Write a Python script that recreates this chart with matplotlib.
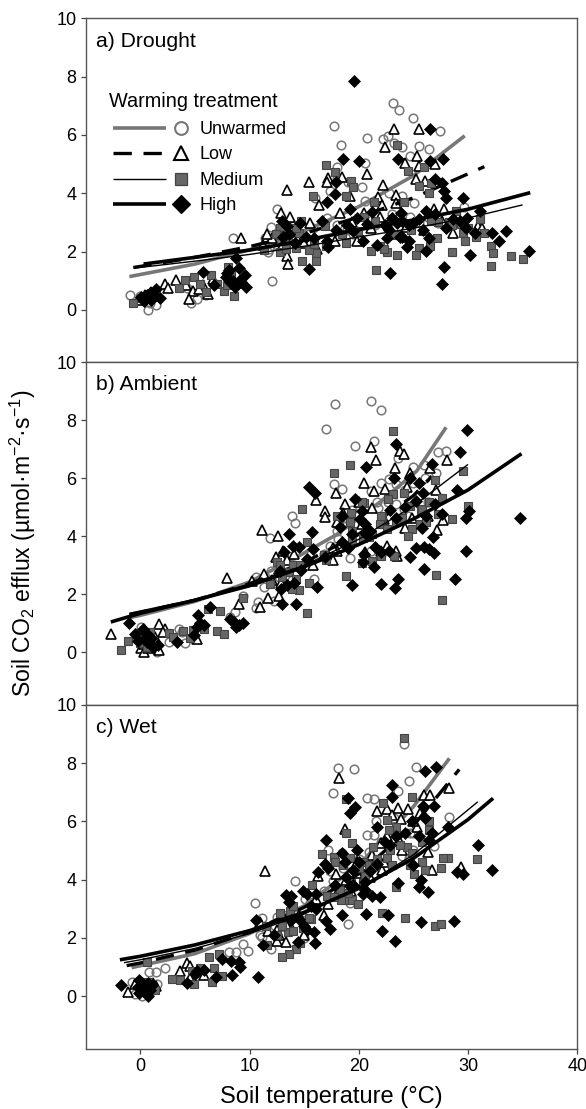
import numpy as np
import matplotlib
matplotlib.use('Agg')
import matplotlib.pyplot as plt

plt.rcParams['font.family'] = ['Liberation Sans', 'DejaVu Sans']
plt.rcParams['mathtext.fontset'] = 'custom'
plt.rcParams['mathtext.rm'] = 'Liberation Sans'
plt.rcParams['mathtext.default'] = 'regular'

# Data: (soil temperature, efflux)
#a) Drought
a_unwarmed = [(23.1,7.09),(23.7,6.86),(25,6.57),(27.4,6.14),(17.7,6.31),(20.8,5.91),(18.4,5.67),(22.2,5.85),(22.7,5.97),
              (23.2,5.71),(24,5.58),(25.5,5.62),(26.4,5.53),(24.7,5.26),(20.6,5.05),(18,4.91),(20.3,4.23),(17.4,4.06),
              (22.8,4.02),(20.6,3.75),(25.1,3.66),(29.6,3.54),(12.5,3.46),(12,2.83),(11.4,2.47),(8.5,2.47),(12.1,1),
              (-0.95,0.51),(-0.03,0.46),(0.73,0),(1.44,0.15),(4.3,0.74),(4.65,0.25),(5.2,0.38),(17.1,3.14),(24.7,3.2),
              (11.7,2),(27.3,2.97),(16,3.83),(14,2.86),(18.9,2.74),(26.3,3.2)]
a_unwarmed += [(14.5,2.3),(15.8,2.8),(12.6,2.2),(13,2.5),(18,2.9),(19.5,2.6),(21,3.1),(23,3.3),(25.5,3),(0.3,0.35),(0.9,0.25),
               (6,0.5),(8.3,0.9),(11.8,2.1),(24,3.9),(19,4.4),(18,4.5),(21.5,2.9)]
a_low = [(23.2,6.21),(25.5,6.21),(22.4,5.57),(25.3,5.28),(24.2,5.05),(25.5,4.95),(27,5),(20.8,4.66),(15.4,4.38),(13.4,4.11),
         (17.2,4.51),(17.1,4.37),(18.5,4.57),(25.2,4.48),(26.1,4.43),(22.2,4.29),(19.2,3.91),(23.4,3.93),(21.8,3.86),
         (16.4,3.58),(22.1,3.6),(23.4,3.68),(27.8,3.46),(26.9,3.46),(12.9,3.31),(13.7,3.2),(15.5,2.99),(18.3,3.31),
         (20.5,3.31),(21.9,3.2),(30.9,2.86),(31.3,2.8),(28.6,2.65),(9.2,2.47),(12.1,2.46),(11.2,2.23),(16.2,2.08),
         (19.8,2.37),(13.4,1.83),(13.5,1.58),(2.26,0.89),(3.24,1.03),(2.57,0.74),(4.86,0.65),(4.46,0.38),(5.7,0.86),
         (6.7,1.05),(6.2,0.55),(-0.2,0.32),(0.7,0.4)]
a_low += [(14.4,2.4),(11.6,2.6),(13.3,2.55),(19.4,3),(21.1,2.8),(22.7,2.95),(24.3,2.85),(26,2.75),(27.6,3.05),(28.7,3.1),
          (0.4,0.5),(1,0.6),(5.4,0.7),(4.2,0.85),(13,2.2),(15,2.3),(17.8,2.35)]
a_medium = [(23.5,5.66),(17,4.97),(17.8,4.72),(24.5,4.77),(26,4.91),(19.3,4.43),(19.5,4.23),(25.5,4.26),(26.6,4.34),(26.4,4),
            (15.8,3.92),(18.8,3.91),(21.4,3.71),(24.1,3.71),(28.9,3.39),(31.1,3.12),(28.3,3),(28.9,3),(31.5,2.65),
            (29.5,2.65),(30.7,2.51),(29.7,2.37),(27.2,2.46),(32.1,2.2),(32.3,1.94),(33.9,1.85),(35,1.76),(32.1,1.51),
            (28.5,2),(25.5,2.11),(25.2,1.89),(23.5,1.89),(22.6,2),(21.1,2.02),(21.6,1.36),(18.8,2.29),(16.1,1.94),
            (16.1,1.69),(14.8,1.66),(15.4,2.06),(14.3,2.11),(12.8,2),(11.3,2.06),(14.5,2.65),(12.8,2.8),(16.9,2.86),
            (21.5,3.06),(14.7,3.06),(8.07,1.46),(6.5,1.18),(4.9,1.14),(4.1,1.03),(3.5,0.74),(6,0.61),(7.7,0.66),
            (8.6,0.48),(-0.7,0.23),(7.9,0.86)]
a_medium += [(14.3,2.8),(12.9,2.55),(13.3,2.1),(15.9,2.25),(17,2.2),(18.5,2.6),(19.9,2.7),(21.9,2.2),(22.3,2.1),(23.3,2.55),
             (24.8,2.75),(26.5,2.2),(27.3,3),(28.5,2.9),(29.4,2.95),(30,2.8),(13.5,2.4),(0.2,0.4),(1,0.5),(5.5,0.9),(7,0.9),
             (8.3,1.25),(12.4,2.6),(20.5,3.2),(23,3.1),(26.6,3.05)]
a_high = [(19.6,7.86),(26.5,6.21),(18.6,5.18),(20,5.09),(23.6,5.18),(26.5,5.12),(27.7,5.18),(29.5,3.85),(27,4.49),(27.6,4.34),
          (27.8,4.06),(28,3.85),(17.9,4.38),(17.8,3.97),(17.1,3.71),(19.2,3.46),(21.2,3.35),(23.9,3.31),(26.2,3.39),
          (29.9,3.14),(31.1,3.39),(29.8,2.82),(28,2.8),(30.6,2.63),(32.2,2.63),(33.5,2.69),(32.8,2.37),(35.6,2.02),
          (30.2,1.89),(27.8,1.46),(27.6,0.89),(26.4,2.48),(26.2,2.02),(24.6,2.37),(24.4,2.15),(24,2.51),(22.9,1.26),
          (21.7,2.23),(20.4,2.37),(22.8,2.74),(16.6,3.05),(14.6,2.97),(13.4,2.86),(13.1,2.51),(15.9,2.46),(17.1,2.37),
          (17.2,2.14),(17.9,2.74),(15.4,1.39),(8.8,1.77),(8.1,1.37),(9.05,1.43),(9.6,1.2),(7.8,1.14),(9.66,0.78),
          (8.7,0.78),(6.76,0.86),(5.7,1.31),(1.44,0.71),(0.9,0.57),(1.8,0.4),(0.43,0.34),(19.8,3.14),(23.5,2.97),
          (25,2.97),(24,3.05)]
a_high += [(22.4,2.91),(23.8,2.51),(22.6,2.46),(18.9,2.9),(20.8,2.95),(25.5,3.1),(27,3.3),(24.6,2.9),(13.6,2.6),(14.2,2.3),
           (15.2,2.5),(13,3.05),(19.5,2.7),(25.9,2.75),(23,3.15),(28.6,3.1),(29.3,3.05),(0.1,0.45),(0.6,0.5),(1.1,0.55),
           (0.3,0.3),(1,0.35),(8.5,1),(9,1),(8.2,0.95),(7.9,1.25),(9.2,0.95)]
a_fit_unwarmed = [(-1,1.14),(5,1.57),(10,2.06),(15,2.7),(20,3.54),(25,4.6),(29.7,5.97)]
a_fit_low = [(-0.64,1.45),(5,1.8),(10,2.17),(15,2.62),(20,3.18),(25,3.84),(31.5,4.91)]
a_fit_medium = [(-0.6,1.43),(5,1.67),(10,1.9),(15,2.18),(20,2.5),(25,2.8),(30,3.15),(35,3.6)]
a_fit_high = [(0.3,1.57),(5,1.8),(10,2.05),(15,2.38),(20,2.75),(25,3.08),(30,3.45),(35.7,4.02)]

#b) Ambient
b_unwarmed = [(17.8,8.56),(21.1,8.67),(22,8.34),(17,7.71),(21.4,7.3),(19.7,7.13),(28,6.96),(27.3,6.9),(23.6,6.69),(25,6.4),
              (26,6.45),(17.7,5.79),(18.5,5.65),(22,5.85),(22.8,5.99),(23.4,5.79),(13.9,4.69),(14.2,4.46),(11.9,3.93),
              (21.7,5.17),(21.1,5.57),(21.8,4.99),(18,4.19),(17.4,3.66),(19.2,3.26),(15.9,2.54),(10.6,2.59),(12,2.8),
              (11.3,2.25),(10.8,1.74),(10.6,1.54),(12.2,1.79),(9.4,1.94),(8.2,1.22),(2.6,0.37),(4.1,0.31),(3.8,0.71),
              (1.5,0),(0.1,0.88),(24.1,4.94),(26.3,5.17),(25,5.85)]
b_unwarmed += [(18.2,4.5),(19.4,4.9),(22.7,5.2),(23.4,5.1),(24.2,5.6),(26.1,6),(27.1,6.2),(16.8,3.4),(14.1,3),(12.7,2.6),(13.2,2.3),
               (13.9,2.5),(19,4.6),(20.3,4.5),(24.5,4.7),(1,0.4),(0.5,0.6),(3.5,0.8),(8.7,1.4),(21.1,3.5),(18.1,3.9)]
b_low = [(21.1,7.09),(23.8,6.94),(24.1,6.85),(21.6,6.63),(28.1,6.63),(26.5,6.37),(23.3,6.35),(24.7,6.19),(20.5,5.85),(21.4,5.57),
         (22.4,5.62),(17.9,5.49),(27.1,5.6),(16.1,5.26),(18.7,5.11),(16.9,4.86),(16.9,4.67),(18.6,4.82),(21.2,4.99),
         (18,4.51),(20.3,4.42),(24.9,4.65),(27.7,4.56),(27.2,4.22),(11.1,4.23),(12.6,4),(12.4,3.28),(13.4,3.19),(18,3.51),
         (17.6,3.19),(20.6,3.45),(22.6,3.68),(23.5,3.34),(23.4,3.51),(7.9,2.56),(11.3,2.69),(10.2,2.45),(9.05,1.66),
         (11.7,1.89),(12.7,1.94),(11,1.55),(1.74,0.99),(2.26,0.82),(-2.7,0.63),(1.2,0.65),(5.2,0.48),(0.06,0.14),(0.37,0),
         (1.74,0.08),(2.1,0.69)]
b_low += [(19.5,4.2),(20,5.2),(22.3,4.6),(24.2,4.3),(26.3,4.7),(24.4,5.7),(17.6,3.6),(14.1,3.4),(13.1,3.5),(0.9,0.35),(0.3,0.3),
          (1.3,0.55),(0.7,0.15),(22,3.5),(15.8,3),(12.1,2.5),(12.9,2.4)]
b_medium = [(23.1,7.63),(19.2,6.46),(17.7,6.19),(14.8,4.94),(29.5,6.25),(27,5.93),(23.1,5.47),(24.1,5.49),(27.6,5.31),(30,5.05),
            (25.7,4.91),(20.5,5.14),(19.3,4.82),(19.2,4.48),(22.1,4.67),(21.9,4.42),(24,4.65),(24.7,5.05),(27.3,4.77),
            (25.6,4.42),(24.9,4.25),(24.5,4.02),(20.4,3.94),(19.4,3.87),(15.3,3.82),(16.8,3.36),(23.2,3.34),(20.3,3.07),
            (21.2,3.14),(12.5,3.11),(14,3.02),(14.6,3.02),(13.6,2.77),(14.3,2.54),(15.4,2.4),(14.5,2.14),(18.8,2.62),
            (27.1,2.67),(27.6,1.82),(15.3,1.37),(9.4,1.87),(7.3,1.42),(6.2,1.51),(5.84,0.82),(7,0.73),(7.7,0.62),(4.86,0.77),
            (3.95,0.73),(2.66,0.66),(4.56,0.51),(-1.1,0.39),(-1.74,0.08),(-0.03,0.31),(11.9,2.37)]
b_medium += [(20.3,5.17),(20.9,3.97),(22.7,5.28),(24.1,5.49),(22,4.71),(22.6,4.25),(24.5,5.05),(25.8,4.94),(19.4,4.2),(21.2,4.08),
             (22,3.34),(18,4.7),(26.4,5.2),(23.4,4.5),(17,3.2),(13,2.6),(12.8,3),(13.9,2.2),(0.2,0.6),(0.6,0.2),(1.2,0.4),
             (-0.4,0.5),(0.9,0.7),(3,0.55),(26.2,4.5),(28.5,4.6)]
b_high = [(29.9,7.68),(29.3,6.91),(23.4,7.17),(20.7,6.4),(26.7,6.51),(23.2,6),(24.7,6.02),(25.5,5.85),(29,5.61),(15.4,5.71),(16,5.49),
          (19.7,5.3),(25.9,5.51),(25.2,5.22),(27,5.11),(20.3,4.88),(27.6,4.77),(30.1,4.88),(29.8,4.63),(34.8,4.65),(23.4,4.65),
          (20.6,4.42),(18.3,4.31),(19.4,4.08),(15.7,4.15),(13.6,4.1),(14,3.68),(14.5,3.62),(13.2,3.45),(15.8,3.57),(26.8,3.99),
          (18.5,3.79),(29.8,3.51),(25.2,3.59),(26,3.62),(26.4,3.57),(26.9,3.42),(24.7,3.3),(22,3.45),(22.8,3.51),(21.5,3.62),
          (15.3,3.22),(26,2.88),(21.4,2.96),(20.4,3.11),(28.8,2.54),(23.6,2.54),(22,2.35),(19.4,2.33),(23.3,2.22),(16.2,2.26),
          (12.8,2.8),(13.4,2.31),(13,1.67),(14.3,1.68),(6.4,1.57),(5.3,1.3),(5.5,1.03),(5.2,0.88),(8.2,1.17),(8.8,0.88),
          (9.4,1.03),(-1,1.03),(-0.5,0.62),(0.28,0.82),(0.58,0.37),(1.65,0.25),(3.4,0.35)]
b_high += [(20.7,4.1),(20.1,4.6),(24.2,5),(26.2,4.7),(22.9,4.9),(21,4.2),(19,3.6),(16.9,3.3),(14.7,2.85),(14.1,2.4),(12.9,2.2),
           (25.8,4.3),(20.5,3.4),(1,0.5),(0.6,0.65),(0.3,0.45),(-0.2,0.4),(1.2,0.2),(4.9,0.6),(5.8,0.95),(8.6,1.05),(9,0.95),(18.5,4.7)]
b_fit_unwarmed = [(-1,1.2),(0,1.28),(5,1.76),(10,2.43),(14.3,3.28),(18,4.07),(22,5.2),(25.3,6.25),(28,7.76)]
b_fit_low = [(-1,1.3),(5,1.8),(10,2.37),(15,3.1),(20,4.08),(25,5.4),(26.7,6.08)]
b_fit_medium = [(-1,1.35),(5,1.83),(10,2.36),(15,3),(20,3.9),(25,5.05),(30,6.48)]
b_fit_high = [(-2.7,1.05),(0,1.35),(5,1.8),(10,2.3),(15,2.95),(20,3.72),(25,4.6),(30,5.6),(34.9,6.85)]

#c) Wet
c_unwarmed = [(24.1,8.65),(18.1,7.82),(19.6,7.79),(25.2,7.86),(24.6,7.39),(17.6,6.96),(23.6,7.04),(20.8,6.8),(21.4,6.77),(21.6,6.01),
              (23.2,6.1),(28.3,6.14),(20.8,5.54),(21.4,5.54),(24.7,5.59),(17.2,5.02),(18.5,4.93),(20.9,4.96),(25,5.02),(17.4,4.3),
              (17.6,3.95),(14.2,3.95),(10.5,3.21),(11.1,2.7),(12.5,2.73),(15.1,3.34),(19,2.47),(11.1,2.02),(15,2.01),(9.4,1.78),
              (9.85,1.55),(12,1.61),(8.1,1.53),(2.3,0.98),(1.44,0.82),(0.8,0.82),(-0.8,0.5),(-0.5,0.08),(0.12,0),(1.5,0.42),
              (26.9,5.17),(24.6,4.73)]
c_unwarmed += [(18.6,4.4),(20,4.7),(22,5.3),(23.5,5.5),(25,5.6),(16.8,3.6),(15.5,3.2),(13.4,2.8),(13,2.1),(12.3,2.4),(14.8,2.6),
               (0.3,0.3),(0.8,0.1),(5,0.8),(8.8,1.5),(21.5,4.2),(24,4.8),(19.2,3.2),(11,2.1)]
c_low = [(18.2,7.47),(28.3,7.13),(26,6.9),(26.5,6.9),(21.7,6.37),(22.6,6.41),(23.6,6.45),(24.5,6.41),(25.6,6.27),(23.9,6.07),
         (25.3,5.79),(18.7,5.73),(22.6,5.51),(23.7,5.36),(22,5.25),(21.2,4.85),(26.3,4.96),(19.8,4.59),(29.4,4.42),(26.7,4.33),
         (11.4,4.3),(22.1,4.33),(17.9,4.19),(19.2,4.22),(19.8,4.24),(16.3,4.13),(18.8,3.99),(17.7,3.65),(16.1,3.34),(16.8,2.79),
         (13.3,2.48),(11,2.53),(11.7,2.25),(12.5,2.27),(12.5,1.9),(13.3,1.87),(12.7,2.1),(4.25,1.13),(3.6,0.88),(4.56,1.02),
         (5.84,0.73),(4.56,0.64),(-1.16,0.14),(-0.5,0.42),(1.44,0.35)]
c_low += [(20.5,4.5),(19.3,3.6),(18.1,3.6),(24,5),(22.3,4.6),(21,4.1),(13.9,2.3),(15,2.1),(14.5,2.8),(0.7,0.3),(0.1,0.2),(1.2,0.45),
          (17.2,3.15),(25,6),(23,6.2)]
c_medium = [(24.1,8.85),(18.8,6.77),(22.2,6.64),(24.9,6.85),(22.6,6.05),(23.4,5.82),(26.4,6.02),(26.4,5.7),(18.8,5.61),(19.4,5.27),
            (16.6,4.88),(17.7,4.77),(25.8,5.3),(24.4,5.13),(22.9,5.02),(21.3,5.11),(19.2,4.73),(20.4,4.62),(20.9,4.5),(21.5,4.45),
            (22.6,4.73),(28.2,4.73),(27.7,4.73),(30.8,4.71),(27.5,4.39),(26.1,4.33),(25.1,4.18),(20.6,4.16),(15.7,3.82),(23.4,3.73),
            (18.3,3.65),(17.1,3.44),(18.9,3.3),(19.4,3.3),(19.9,3.17),(13.7,2.94),(12.8,2.85),(22.1,2.87),(24.2,2.7),(27,2.42),
            (27.5,2.48),(15.6,2.64),(13.5,2.22),(14,2.25),(11.6,1.76),(14.6,1.84),(14.3,1.61),(13.6,1.44),(13,1.34),(7.2,1.45),
            (6.3,1.36),(0.58,1.17),(6.76,0.96),(5.5,0.98),(7.5,0.71),(6.6,0.49),(4.9,0.42),(3.6,0.54),(2.9,0.58),(1.1,0.31)]
c_medium += [(17.8,4.6),(18.6,4.5),(20,4.4),(21.7,4.7),(23,4.5),(23.8,5.2),(24.9,4.9),(22.8,5.7),(19.3,3.9),(20.4,3.9),(19,3.55),
             (18.4,3.3),(17.7,3.4),(15.4,2.7),(14,3.1),(13,2.4),(12.5,2.1),(14.9,2.35),(0.7,0.5),(0.2,0.2),(1.3,0.2),(4.7,0.85),
             (11.5,2.4),(24.7,4.5),(25.8,4.6)]
c_high = [(27.1,7.86),(26.05,7.71),(23,7.26),(23,6.82),(19,6.79),(19.7,6.48),(19.2,6.3),(26.9,6.53),(25.9,6.53),(26.1,6.1),(28.2,5.79),
          (23.4,5.5),(17,5.36),(26.4,5.36),(22.4,5.3),(30.9,5.19),(19.8,5),(16.9,4.54),(18.7,4.59),(25,4.5),(32.2,4.33),(29,4.27),
          (29.5,4.19),(16.3,4.27),(19.5,4.33),(25.7,3.99),(23.6,3.87),(20.6,3.93),(25.5,3.74),(26.3,3.59),(19.2,3.78),(20.6,3.65),
          (14.9,3.62),(15.3,3.51),(13.3,3.47),(13.8,3.45),(13.6,3.22),(21.2,3.45),(21.9,3.42),(16.1,2.99),(18.5,2.77),(20.7,2.81),
          (22.7,2.77),(17,2.59),(10.6,2.62),(28.7,2.57),(25.7,2.53),(17.4,2.3),(22.1,2.24),(23.3,1.9),(15.9,2.22),(15.3,2.27),
          (16,1.84),(14.4,1.87),(11.2,1.75),(7.5,1.28),(8.3,1.22),(9,1.17),(9.1,0.99),(8.4,0.72),(10.8,0.67),(5.84,0.9),(5.2,0.85),
          (6.9,0.67),(4.25,0.45),(-1.8,0.37),(-0.1,0.56),(0.73,0.45),(-0.1,0.1),(0.73,0),(0.43,0.31)]
c_high += [(18.5,4.9),(20,4.6),(21,4.3),(21.7,5.8),(22.9,5.2),(24.2,5.6),(24.9,6),(25.5,5.5),(18.8,4.1),(17.8,3.8),(16.1,3.5),(15.6,3.1),
           (14.5,2.65),(15,2.4),(13.8,2.6),(12.2,2.1),(20.4,3.5),(19.5,3.8),(17.2,4.4),(0.9,0.2),(0.2,0.45),(-0.2,0.3),(1.1,0.4),(0.5,0.15),
           (5,0.75),(26.7,5.6),(21.7,4.55)]
c_fit_unwarmed = [(-0.8,0.98),(5,1.46),(10,2.15),(15,3.1),(20,4.5),(25,6.5),(28.3,8.16)]
c_fit_low = [(-1.25,1.05),(0,1.14),(5,1.58),(10,2.2),(15,3.05),(20,4.2),(25,5.85),(29.2,7.78)]
c_fit_medium = [(-1.5,1.15),(0,1.25),(5,1.64),(10,2.15),(15,2.82),(20,3.7),(25,4.85),(30.9,6.67)]
c_fit_high = [(-1.87,1.25),(0,1.37),(5,1.76),(10,2.25),(15,2.88),(20,3.7),(25,4.73),(30,6.06),(32.3,6.79)]

panel_names = ['a) Drought', 'b) Ambient', 'c) Wet']
legend_names = ['Unwarmed', 'Low', 'Medium', 'High']
xticks = [0, 10, 20, 30, 40]
yticks = [0, 2, 4, 6, 8, 10]

panels = [
    [a_unwarmed, a_low, a_medium, a_high],
    [b_unwarmed, b_low, b_medium, b_high],
    [c_unwarmed, c_low, c_medium, c_high],
]
fits = [
    [a_fit_unwarmed, a_fit_low, a_fit_medium, a_fit_high],
    [b_fit_unwarmed, b_fit_low, b_fit_medium, b_fit_high],
    [c_fit_unwarmed, c_fit_low, c_fit_medium, c_fit_high],
]

# one style per warming treatment
marker_style = [
    dict(marker='o', mfc='none', mec='#777777', mew=1.1, ms=6.2),
    dict(marker='^', mfc='white', mec='black', mew=1.2, ms=6.8),
    dict(marker='s', mfc='#666666', mec='#444444', mew=0.8, ms=5.7),
    dict(marker='D', mfc='black', mec='black', mew=0.5, ms=5.8),
]
line_style = [
    dict(color='#777777', lw=2.6, ls='-'),
    dict(color='black', lw=2.4, ls=(0, (5.5, 3.5))),
    dict(color='black', lw=1.0, ls='-'),
    dict(color='black', lw=2.6, ls='-'),
]

W, H = 586, 1109
fig = plt.figure(figsize=(W / 100, H / 100), dpi=100)

tops = [18.3, 362.3, 704.7]
bottoms = [362.3, 704.7, 1048.7]
left, right = 85.7, 577.2

axes = []
for i in range(3):
    ax = fig.add_axes([left / W, 1 - bottoms[i] / H, (right - left) / W, (bottoms[i] - tops[i]) / H])
    axes.append(ax)

    for j in range(4):
        pts = np.array(panels[i][j])
        fit = np.array(fits[i][j])
        ax.plot(pts[:, 0], pts[:, 1], ls='none', zorder=2 + j, **marker_style[j])
        ax.plot(fit[:, 0], fit[:, 1], zorder=2 + j, solid_capstyle='butt', **line_style[j])

    ax.set_xlim(-5, 40)
    ax.set_ylim(-1.8, 10)
    ax.set_xticks(xticks)
    ax.set_yticks(yticks)
    ax.tick_params(direction='out', length=3.8, width=0.9, color='#444444', labelsize=13, pad=3)
    if i < 2:
        ax.tick_params(labelbottom=False)
    for s in ax.spines.values():
        s.set_linewidth(1.0)
        s.set_color('#555555')
    ax.text(-4.1, 9.22, panel_names[i], fontsize=15.2, va='center', ha='left', zorder=10)

axes[2].set_xlabel('Soil temperature (°C)', fontsize=17, labelpad=8)
fig.text(23 / W, 1 - 543 / H, 'Soil CO$_2$ efflux (µmol·m$^{-2}$·s$^{-1}$)', rotation=90,
         fontsize=16.6, ha='center', va='center')

# legend drawn by hand inside the first panel, the line sits next to its marker
ax = axes[0]
ax.text(-2.84, 7.14, 'Warming treatment', fontsize=14.3, va='center', ha='left', zorder=20)
legend_y = [6.23, 5.37, 4.48, 3.64]
big_ms = [9.2, 9.4, 8.6, 9.6]
for j in range(4):
    ax.plot([-2.5, 2.35], [legend_y[j], legend_y[j]], zorder=20, solid_capstyle='butt', **line_style[j])
    ms = dict(marker_style[j])
    ms['ms'] = big_ms[j]
    ms['mew'] = 1.5 if j < 2 else 0.9
    ax.plot([3.7], [legend_y[j]], ls='none', zorder=20, **ms)
    ax.text(5.45, legend_y[j] - 0.05, legend_names[j], fontsize=13, va='center', ha='left', zorder=20)

fig.savefig('out.png', dpi=100)
